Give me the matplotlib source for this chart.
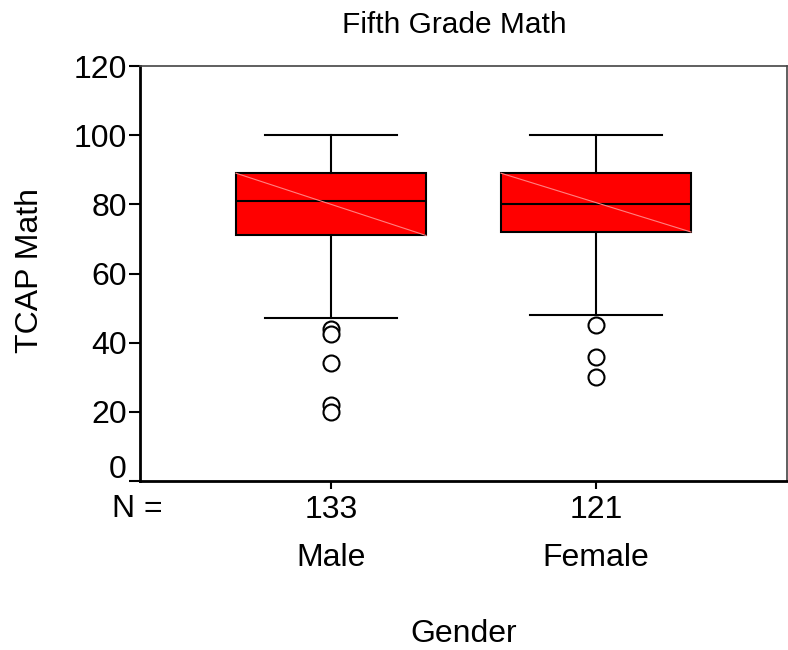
import matplotlib
matplotlib.use('Agg')
import matplotlib.pyplot as plt
import matplotlib.transforms as mtransforms

# SPSS style boxplot, Fifth grade TCAP math scores by gender
groups = ['Male', 'Female']
counts = [133, 121]
# five number summaries
whisker_low = [47, 48]
q1 = [71, 72]
median = [81, 80]
q3 = [89, 89]
whisker_high = [100, 100]
outliers = [[44, 42.5, 34, 22, 20], [45, 36, 30]]
yticks = [0, 20, 40, 60, 80, 100, 120]

plt.rcParams['font.family'] = ['Liberation Sans', 'DejaVu Sans']
FS = 23

fig = plt.figure(figsize=(7.88, 6.5), dpi=100)
ax = fig.add_axes([140/788, 1 - 481/650, 647/788, 415/650])

positions = [1, 2]
box_w = 0.717
stats = []
for i in range(len(groups)):
    stats.append({'whislo': whisker_low[i], 'q1': q1[i], 'med': median[i],
                  'q3': q3[i], 'whishi': whisker_high[i], 'fliers': outliers[i],
                  'label': groups[i]})

bp = ax.bxp(stats, positions=positions, widths=box_w, patch_artist=True,
            capwidths=0.5,
            boxprops=dict(facecolor='#ff0000', edgecolor='black', linewidth=1.5),
            medianprops=dict(color='black', linewidth=1.5),
            whiskerprops=dict(color='black', linewidth=1.5),
            capprops=dict(color='black', linewidth=1.5),
            flierprops=dict(marker='o', markerfacecolor='white', markeredgecolor='black',
                            markersize=11.5, markeredgewidth=1.5))

# faint diagonal across each box (rendering artefact in the original)
for i, p in enumerate(positions):
    ax.plot([p - box_w/2, p + box_w/2], [q3[i], q1[i]], color='#ff8080',
            linewidth=0.8, zorder=3)

ax.set_xlim(1 - 0.7208, 2 + 0.7208)
ax.set_ylim(0, 120)
ax.set_yticks(yticks)
ax.tick_params(axis='y', labelsize=FS, length=8, width=1.5, direction='out', pad=1.5)
ax.set_xticks(positions)
ax.set_xticklabels([str(c) for c in counts], fontsize=FS)
ax.tick_params(axis='x', length=6, width=1.5, direction='out', pad=4)

# SPSS nudges the "0" label up so it clears the N = row
fig.canvas.draw()
lab0 = ax.get_yticklabels()[0]
lab0.set_transform(lab0.get_transform() + mtransforms.ScaledTranslation(0, 0.15, fig.dpi_scale_trans))

for s in ['left', 'bottom']:
    ax.spines[s].set_linewidth(2)
for s in ['top', 'right']:
    ax.spines[s].set_linewidth(1.2)
    ax.spines[s].set_color('#444444')

trans = mtransforms.blended_transform_factory(ax.transData, fig.transFigure)
for i, p in enumerate(positions):
    ax.text(p, 1 - 558/650, groups[i], transform=trans, ha='center', va='center', fontsize=FS)
fig.text(137/788, 1 - 509/650, 'N =', ha='center', va='center', fontsize=FS)

fig.text(454/788, 1 - 25/650, 'Fifth Grade Math', ha='center', va='center', fontsize=21.5)
fig.text(464/788, 1 - 634/650, 'Gender', ha='center', va='center', fontsize=FS)
fig.text(30/788, 1 - 270/650, 'TCAP Math', ha='center', va='center', rotation=90, fontsize=FS)

fig.savefig('out.png', dpi=100)
